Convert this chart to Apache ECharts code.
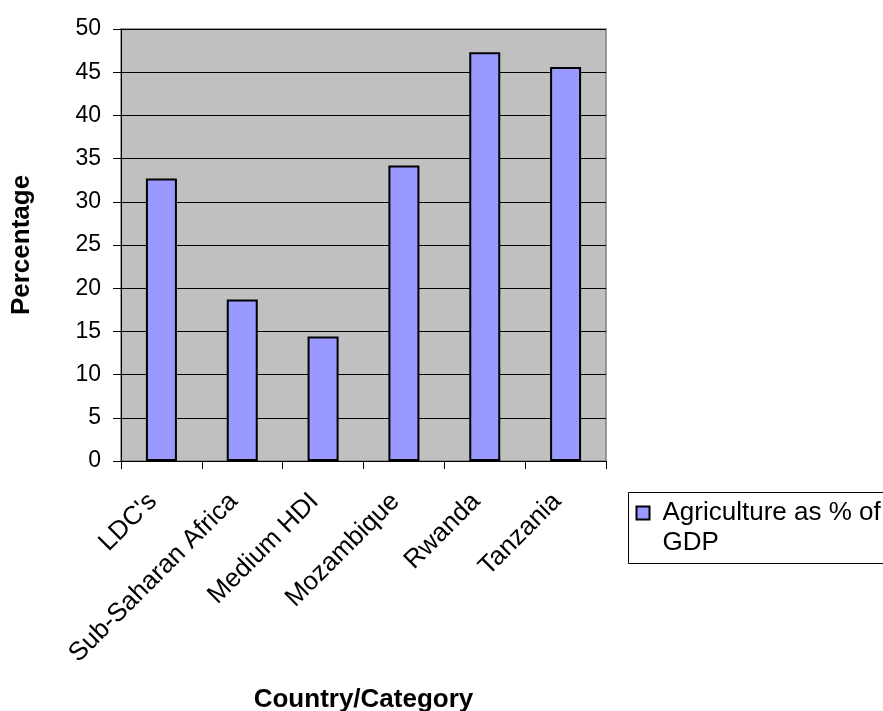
<!DOCTYPE html>
<html>
<head>
<meta charset="utf-8">
<script src="https://cdn.jsdelivr.net/npm/echarts@6/dist/echarts.min.js"></script>
<style>
  html, body { margin: 0; padding: 0; background: #fff; }
  #chart { width: 883px; height: 711px; }
</style>
</head>
<body>
<div id="chart"></div>
<script>
// Agriculture share of GDP by country / category
const categories = ["LDC's", "Sub-Saharan Africa", "Medium HDI", "Mozambique", "Rwanda", "Tanzania"];
const agricultureShare = [32.7, 18.7, 14.4, 34.2, 47.3, 45.6];
const seriesName = "Agriculture as % of GDP";
const yTicks = [0, 5, 10, 15, 20, 25, 30, 35, 40, 45, 50];

const FONT = "'Liberation Sans', Arial, sans-serif";
const BAR_FILL = '#9999ff';

const chart = echarts.init(document.getElementById('chart'), null, { renderer: 'canvas' });

chart.setOption({
  animation: false,
  backgroundColor: '#ffffff',
  textStyle: { fontFamily: FONT },
  grid: {
    left: 121, top: 29, right: 277, bottom: 250,
    outerBoundsMode: 'none',
    containLabel: false,
    show: true,
    backgroundColor: '#c0c0c0',
    borderColor: '#808080',
    borderWidth: 1.5
  },
  xAxis: {
    type: 'category',
    data: categories,
    boundaryGap: true,
    name: 'Country/Category',
    nameLocation: 'middle',
    nameGap: 226,
    nameTextStyle: { fontFamily: FONT, fontSize: 26, fontWeight: 'bold', color: '#000' },
    axisLine: { show: true, lineStyle: { color: '#000', width: 1 } },
    axisTick: { show: true, alignWithLabel: false, length: 8, lineStyle: { color: '#000', width: 1 } },
    axisLabel: {
      rotate: 45,
      margin: 28,
      interval: 0,
      padding: [0, 12, 0, 0],
      fontFamily: FONT,
      fontSize: 26,
      color: '#000'
    },
    splitLine: { show: false }
  },
  yAxis: {
    type: 'value',
    min: yTicks[0],
    max: yTicks[yTicks.length - 1],
    interval: yTicks[1] - yTicks[0],
    name: 'Percentage',
    nameLocation: 'middle',
    nameGap: 86,
    nameTextStyle: { fontFamily: FONT, fontSize: 26, fontWeight: 'bold', color: '#000' },
    axisLine: { show: true, lineStyle: { color: '#000', width: 1 } },
    axisTick: { show: true, length: 8, lineStyle: { color: '#000', width: 1 } },
    axisLabel: { margin: 20, fontFamily: FONT, fontSize: 23, color: '#000' },
    splitLine: { show: true, lineStyle: { color: '#000', width: 1 } }
  },
  series: [{
    name: seriesName,
    type: 'bar',
    data: agricultureShare,
    barWidth: 31,
    itemStyle: { color: BAR_FILL, borderColor: '#000', borderWidth: 2 }
  }],
  graphic: [
    {
      type: 'group',
      left: 628, top: 492,
      children: [
        { type: 'rect', shape: { x: 0, y: 0, width: 300, height: 71 },
          style: { fill: '#fff', stroke: '#000', lineWidth: 1 } },
        { type: 'rect', shape: { x: 8, y: 14, width: 13, height: 13 },
          style: { fill: BAR_FILL, stroke: '#000', lineWidth: 2 } },
        { type: 'text', x: 34, y: 5,
          style: { text: 'Agriculture as % of\nGDP', fontFamily: FONT, fontSize: 26,
                   lineHeight: 30, fill: '#000', verticalAlign: 'top' } }
      ]
    }
  ]
});
</script>
</body>
</html>
